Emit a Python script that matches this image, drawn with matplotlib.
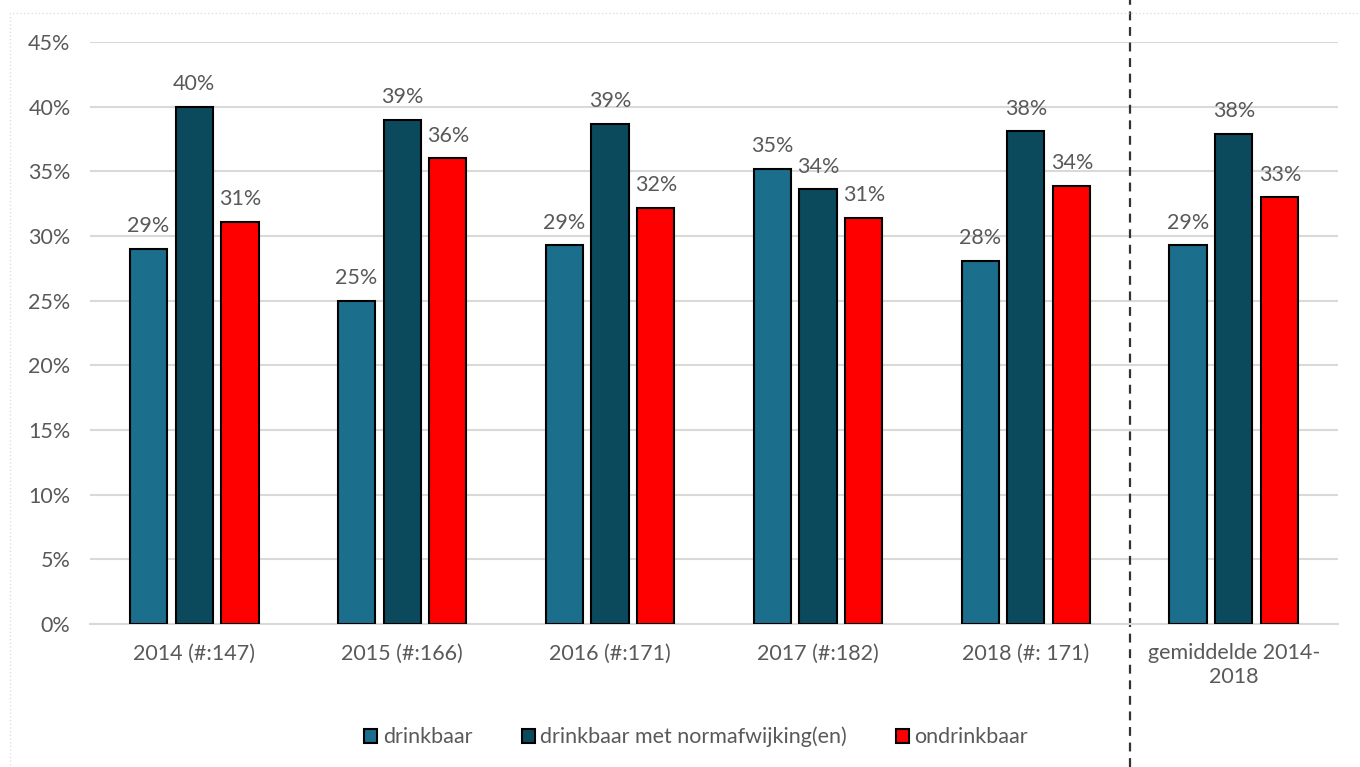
import matplotlib.pyplot as plt
from matplotlib.patches import Rectangle
import numpy as np

categories = ['2014 (#:147)', '2015 (#:166)', '2016 (#:171)', '2017 (#:182)',
              '2018 (#: 171)', 'gemiddelde 2014-\n2018']
drinkbaar = [29.0, 25.0, 29.3, 35.2, 28.1, 29.3]
normafwijking = [40.0, 39.0, 38.7, 33.6, 38.1, 37.9]
ondrinkbaar = [31.1, 36.0, 32.2, 31.4, 33.9, 33.0]
series_names = ['drinkbaar', 'drinkbaar met normafwijking(en)', 'ondrinkbaar']
colors = ['#1b6e8c', '#0b4a5c', '#ff0000']

plt.rcParams['font.family'] = ['Lato', 'DejaVu Sans']
txt = '#595959'
fs = 15.5

fig = plt.figure(figsize=(13.6, 7.67), dpi=100)
ax = fig.add_axes([0.0662, 0.1864, 0.9176, 0.7588])

x = np.arange(len(categories))
width = 0.178
step = 0.221
for i, (vals, name, col) in enumerate(zip([drinkbaar, normafwijking, ondrinkbaar], series_names, colors)):
    xs = x + (i - 1) * step
    bars = ax.bar(xs, vals, width, color=col, edgecolor='black', linewidth=1.5,
                  label=name, zorder=3)
    for b, v in zip(bars, vals):
        ax.annotate(f'{v:.0f}%', (b.get_x() + b.get_width() / 2, v),
                    xytext=(0, 9), textcoords='offset points', ha='center',
                    va='bottom', fontsize=fs, color=txt)

ax.set_xlim(-0.5, 5.5)
ax.set_ylim(0, 45)
ax.set_yticks(range(0, 46, 5))
ax.set_yticklabels([f'{t}%' for t in range(0, 46, 5)])
ax.set_xticks(x)
ax.set_xticklabels(categories)
ax.tick_params(axis='both', length=0, labelsize=fs, labelcolor=txt)
ax.tick_params(axis='x', pad=14)
ax.tick_params(axis='y', pad=14)
ax.yaxis.grid(True, color='#d9d9d9', linewidth=1.5, zorder=0)
for s in ['top', 'right', 'left']:
    ax.spines[s].set_visible(False)
ax.spines['bottom'].set_color('#d9d9d9')
ax.spines['bottom'].set_linewidth(1.5)

# dashed separator before the average group
ax.axvline(4.5, ymin=-0.246, ymax=1.072, color='#333333', linestyle=(0, (4, 3)),
           linewidth=1.6, clip_on=False)

leg = fig.legend(loc='center', bbox_to_anchor=(0.512, 0.039), ncol=3, frameon=False,
                 fontsize=fs, columnspacing=2.3, handlelength=0.6, handleheight=0.6,
                 handletextpad=0.25)
for t in leg.get_texts():
    t.set_color(txt)

# faint outer chart border
fig.patches.append(Rectangle((0.007, -0.01), 1.0, 0.993, transform=fig.transFigure,
                             fill=False, edgecolor='#e0e0e0', linewidth=1,
                             linestyle=':'))

fig.savefig('out.png', dpi=100)
